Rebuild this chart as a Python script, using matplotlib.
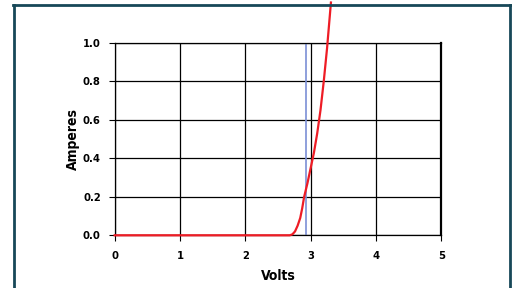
import matplotlib.pyplot as plt
from matplotlib.lines import Line2D

# diode I-V curve
volts = [0.0, 2.68, 2.72, 2.76, 2.80, 2.84, 2.87, 2.90, 2.95, 3.00, 3.05, 3.10, 3.15, 3.20, 3.25, 3.31]
amps = [0.0, 0.0, 0.005, 0.02, 0.05, 0.09, 0.14, 0.20, 0.27, 0.35, 0.43, 0.53, 0.65, 0.80, 0.97, 1.21]
marker_v = 2.935

xticks = [0, 1, 2, 3, 4, 5]
yticks = [0.0, 0.2, 0.4, 0.6, 0.8, 1.0]

plt.rcParams["font.family"] = ["DejaVu Sans"]
plt.rcParams["font.stretch"] = "condensed"
plt.rcParams["font.weight"] = "bold"

fig = plt.figure(figsize=(5.12, 2.88), dpi=100)
ax = fig.add_axes([0.224, 0.183, 0.638, 0.668])

ax.set_xlim(0, 5)
ax.set_ylim(0, 1.0)
ax.set_xticks(xticks)
ax.set_yticks(yticks)
ax.set_xticklabels([str(t) for t in xticks], fontsize=8, fontweight="bold")
ax.set_yticklabels([f"{t:.1f}" for t in yticks], fontsize=8, fontweight="bold")
ax.grid(True, color="black", linewidth=0.9)
ax.set_axisbelow(True)
ax.tick_params(length=4, width=0.8, color="black")
ax.tick_params(axis="x", pad=7)
ax.tick_params(axis="y", pad=6)

for side in ["left", "bottom", "top"]:
    ax.spines[side].set_linewidth(0.9)
ax.spines["right"].set_linewidth(1.6)

ax.axvline(marker_v, color="#7b8fd6", linewidth=1.2, zorder=2)
ax.plot(volts, amps, color="#ee1c25", linewidth=1.6, clip_on=False, zorder=3)

ax.set_xlabel("Volts", fontsize=10, fontweight="bold", labelpad=6)
ax.set_ylabel("Amperes", fontsize=10, fontweight="bold", labelpad=2)

# outer frame
frame = "#174858"
fig.add_artist(Line2D([13.5 / 512, 13.5 / 512], [0, 1 - 5 / 288], color=frame, linewidth=2))
fig.add_artist(Line2D([510 / 512, 510 / 512], [0, 1 - 5 / 288], color=frame, linewidth=2))
fig.add_artist(Line2D([13 / 512, 510.5 / 512], [1 - 5 / 288, 1 - 5 / 288], color=frame, linewidth=2))

fig.savefig("out.png", dpi=100)
